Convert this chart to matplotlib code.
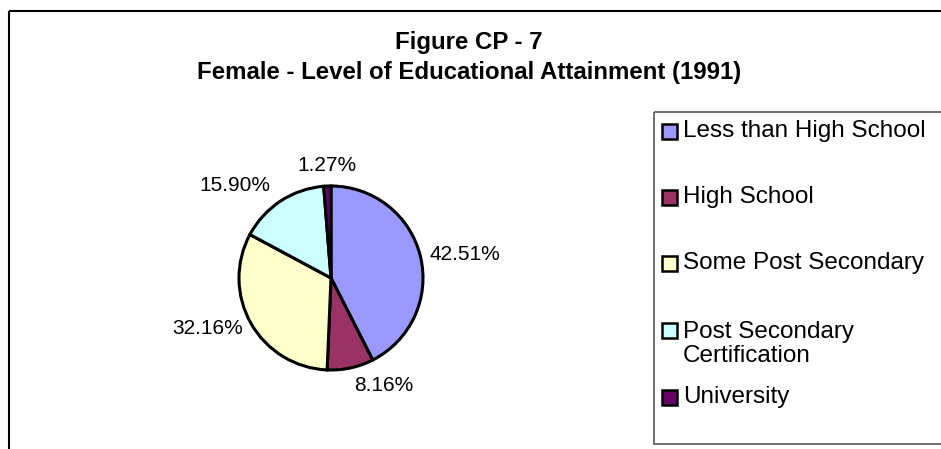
import numpy as np
import matplotlib.pyplot as plt
from matplotlib.patches import Rectangle

plt.rcParams['font.family'] = ['Liberation Sans', 'DejaVu Sans']

# data
categories = ["Less than High School", "High School", "Some Post Secondary",
              "Post Secondary\nCertification", "University"]
shares = [42.51, 8.16, 32.16, 15.90, 1.27]
colors = ["#9999FF", "#993366", "#FFFFCC", "#CCFFFF", "#660066"]
title_lines = ["Figure CP - 7", "Female - Level of Educational Attainment (1991)"]

W, H = 941, 449
fig = plt.figure(figsize=(W / 100, H / 100), dpi=100)
fig.patch.set_facecolor("white")

# overlay in pixel coords for frame, title and legend
bg = fig.add_axes([0, 0, 1, 1])
bg.set_xlim(0, W)
bg.set_ylim(H, 0)
bg.axis("off")
bg.add_patch(Rectangle((9.5, 10.5), 1000, 600, fill=False, ec="black", lw=1.5))

bg.text(469, 42, title_lines[0], ha="center", va="center", fontsize=17.3, fontweight="bold")
bg.text(469, 73, title_lines[1], ha="center", va="center", fontsize=17.3, fontweight="bold")

# pie
cx, cy, r = 331, 278, 92
pad = 1.06
ax = fig.add_axes([(cx - r * pad) / W, (H - cy - r * pad) / H, 2 * r * pad / W, 2 * r * pad / H])
wedges, _ = ax.pie(shares, colors=colors, startangle=90, counterclock=False, radius=1,
                   wedgeprops=dict(edgecolor="black", linewidth=2.2))
ax.set_xlim(-pad, pad)
ax.set_ylim(-pad, pad)
ax.axis("off")

label_dist = [1.1, 1.2, 1.1, 1.2, 1.22]
cum = np.cumsum([0] + shares[:-1])
for i, v in enumerate(shares):
    mid = np.deg2rad(90 - (cum[i] + v / 2) / 100 * 360)
    x = np.cos(mid) * label_dist[i]
    y = np.sin(mid) * label_dist[i]
    if x > 0.15:
        ha = "left"
    elif x < -0.15:
        ha = "right"
    else:
        ha = "center"
    ax.text(x, y, "%.2f%%" % v, ha=ha, va="center", fontsize=15, clip_on=False)

# legend box
bg.add_patch(Rectangle((654, 112), 400, 332, fill=False, ec="#555555", lw=1.2))
entry_y = [131, 197, 263, 330, 397]
for name, c, yy in zip(categories, colors, entry_y):
    bg.add_patch(Rectangle((662, yy - 7.5), 15, 15, fc=c, ec="black", lw=1.8))
    ty = yy + 14 if "\n" in name else yy
    bg.text(683, ty, name, ha="left", va="center", fontsize=17.5, linespacing=1.15)

fig.savefig("out.png", dpi=100)
